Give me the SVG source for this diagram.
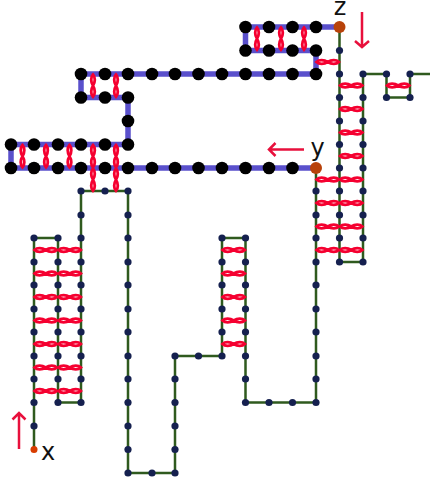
<svg xmlns="http://www.w3.org/2000/svg" xmlns:xlink="http://www.w3.org/1999/xlink" width="430" height="482" viewBox="0 0 430 482">
<style>
.b{fill:none;stroke:#5a50cc;stroke-width:5.500}
.g{fill:none;stroke:#2f5a1e;stroke-width:2.500}
.t{fill:none;stroke:#f50030;stroke-width:2.800}
.a{fill:none;stroke:#e8103c;stroke-width:2.500}
.k{fill:#000}
.n{fill:#15204f}
.o{fill:#b8420a}
text{font-family:"DejaVu Sans",sans-serif;font-size:24px;fill:#111}
</style>
<defs>
<path id="h" class="t" d="M0.500 0C3 -2.400 8 -2.400 11.700 0C15.400 2.400 20.400 2.400 22.900 0C20.400 -2.400 15.400 -2.400 11.700 0C8 2.400 3 2.400 0.500 0Z"/>
<path id="v" class="t" d="M0 0.500C-2.400 3 -2.400 8 0 11.700C2.400 15.400 2.400 20.400 0 22.900C-2.400 20.400 -2.400 15.400 0 11.700C2.400 8 2.400 3 0 0.500Z"/>
<circle id="kn" class="k" r="6.300"/>
<circle id="nn" class="n" r="3.600"/>
</defs>
<g id="connectors">
<path class="b" d="M339.500 27H245.500V50.500H316V74H81V97.500H128V144.500H11V168H316"/>
<path class="g" d="M34 449.500V238H58V402.500H81V191H128V473H175V356H222V238H245.500V402.500H316V168"/>
<path class="g" d="M339.500 27V262H363V74H386.500V97.500H410V74H430"/>
</g>
<g id="twists">
<use xlink:href="#v" x="257" y="27"/><use xlink:href="#v" x="281" y="27"/><use xlink:href="#v" x="304" y="27"/>
<use xlink:href="#v" x="93" y="74"/><use xlink:href="#v" x="116" y="74"/>
<use xlink:href="#v" x="22.500" y="144.500"/><use xlink:href="#v" x="46" y="144.500"/><use xlink:href="#v" x="69.500" y="144.500"/><use xlink:href="#v" x="93" y="144.500"/><use xlink:href="#v" x="116" y="144.500"/>
<use xlink:href="#v" x="93" y="168"/><use xlink:href="#v" x="116" y="168"/>
<use xlink:href="#h" x="316" y="62"/>
<use xlink:href="#h" x="339.500" y="85.500"/><use xlink:href="#h" x="339.500" y="109"/><use xlink:href="#h" x="339.500" y="132.500"/><use xlink:href="#h" x="339.500" y="156"/>
<use xlink:href="#h" x="386.500" y="85.500"/>
<use xlink:href="#h" x="316" y="179.500"/><use xlink:href="#h" x="339.500" y="179.500"/>
<use xlink:href="#h" x="316" y="203"/><use xlink:href="#h" x="339.500" y="203"/>
<use xlink:href="#h" x="316" y="226.500"/><use xlink:href="#h" x="339.500" y="226.500"/>
<use xlink:href="#h" x="316" y="250"/><use xlink:href="#h" x="339.500" y="250"/>
<use xlink:href="#h" x="222" y="250"/><use xlink:href="#h" x="222" y="273.500"/><use xlink:href="#h" x="222" y="297"/><use xlink:href="#h" x="222" y="320.500"/><use xlink:href="#h" x="222" y="344"/>
<use xlink:href="#h" x="34" y="250"/><use xlink:href="#h" x="58" y="250"/>
<use xlink:href="#h" x="34" y="273.500"/><use xlink:href="#h" x="58" y="273.500"/>
<use xlink:href="#h" x="34" y="297"/><use xlink:href="#h" x="58" y="297"/>
<use xlink:href="#h" x="34" y="320.500"/><use xlink:href="#h" x="58" y="320.500"/>
<use xlink:href="#h" x="34" y="344"/><use xlink:href="#h" x="58" y="344"/>
<use xlink:href="#h" x="34" y="367.500"/><use xlink:href="#h" x="58" y="367.500"/>
<use xlink:href="#h" x="34" y="391"/><use xlink:href="#h" x="58" y="391"/>
</g>
<g id="black-nodes">
<use xlink:href="#kn" x="245.500" y="27"/><use xlink:href="#kn" x="269" y="27"/><use xlink:href="#kn" x="292.500" y="27"/><use xlink:href="#kn" x="316" y="27"/>
<use xlink:href="#kn" x="245.500" y="50.500"/><use xlink:href="#kn" x="269" y="50.500"/><use xlink:href="#kn" x="292.500" y="50.500"/><use xlink:href="#kn" x="316" y="50.500"/>
<use xlink:href="#kn" x="81" y="74"/><use xlink:href="#kn" x="105" y="74"/><use xlink:href="#kn" x="128" y="74"/><use xlink:href="#kn" x="152" y="74"/><use xlink:href="#kn" x="175" y="74"/><use xlink:href="#kn" x="198.500" y="74"/><use xlink:href="#kn" x="222" y="74"/><use xlink:href="#kn" x="245.500" y="74"/><use xlink:href="#kn" x="269" y="74"/><use xlink:href="#kn" x="292.500" y="74"/><use xlink:href="#kn" x="316" y="74"/>
<use xlink:href="#kn" x="81" y="97.500"/><use xlink:href="#kn" x="105" y="97.500"/><use xlink:href="#kn" x="128" y="97.500"/>
<use xlink:href="#kn" x="128" y="121"/>
<use xlink:href="#kn" x="11" y="144.500"/><use xlink:href="#kn" x="34" y="144.500"/><use xlink:href="#kn" x="58" y="144.500"/><use xlink:href="#kn" x="81" y="144.500"/><use xlink:href="#kn" x="105" y="144.500"/><use xlink:href="#kn" x="128" y="144.500"/>
<use xlink:href="#kn" x="11" y="168"/><use xlink:href="#kn" x="34" y="168"/><use xlink:href="#kn" x="58" y="168"/><use xlink:href="#kn" x="81" y="168"/><use xlink:href="#kn" x="105" y="168"/><use xlink:href="#kn" x="128" y="168"/><use xlink:href="#kn" x="152" y="168"/><use xlink:href="#kn" x="175" y="168"/><use xlink:href="#kn" x="198.500" y="168"/><use xlink:href="#kn" x="222" y="168"/><use xlink:href="#kn" x="245.500" y="168"/><use xlink:href="#kn" x="269" y="168"/><use xlink:href="#kn" x="292.500" y="168"/>
</g>
<g id="green-nodes">
<use xlink:href="#nn" x="34" y="238"/><use xlink:href="#nn" x="34" y="262"/><use xlink:href="#nn" x="34" y="285"/><use xlink:href="#nn" x="34" y="309"/><use xlink:href="#nn" x="34" y="332"/><use xlink:href="#nn" x="34" y="356"/><use xlink:href="#nn" x="34" y="379"/><use xlink:href="#nn" x="34" y="402.500"/><use xlink:href="#nn" x="34" y="426"/>
<use xlink:href="#nn" x="58" y="238"/><use xlink:href="#nn" x="58" y="262"/><use xlink:href="#nn" x="58" y="285"/><use xlink:href="#nn" x="58" y="309"/><use xlink:href="#nn" x="58" y="332"/><use xlink:href="#nn" x="58" y="356"/><use xlink:href="#nn" x="58" y="379"/><use xlink:href="#nn" x="58" y="402.500"/>
<use xlink:href="#nn" x="81" y="191"/><use xlink:href="#nn" x="81" y="215"/><use xlink:href="#nn" x="81" y="238"/><use xlink:href="#nn" x="81" y="262"/><use xlink:href="#nn" x="81" y="285"/><use xlink:href="#nn" x="81" y="309"/><use xlink:href="#nn" x="81" y="332"/><use xlink:href="#nn" x="81" y="356"/><use xlink:href="#nn" x="81" y="379"/><use xlink:href="#nn" x="81" y="402.500"/>
<use xlink:href="#nn" x="105" y="191"/>
<use xlink:href="#nn" x="128" y="191"/><use xlink:href="#nn" x="128" y="215"/><use xlink:href="#nn" x="128" y="238"/><use xlink:href="#nn" x="128" y="262"/><use xlink:href="#nn" x="128" y="285"/><use xlink:href="#nn" x="128" y="309"/><use xlink:href="#nn" x="128" y="332"/><use xlink:href="#nn" x="128" y="356"/><use xlink:href="#nn" x="128" y="379"/><use xlink:href="#nn" x="128" y="402.500"/><use xlink:href="#nn" x="128" y="426"/><use xlink:href="#nn" x="128" y="449.500"/><use xlink:href="#nn" x="128" y="473"/>
<use xlink:href="#nn" x="152" y="473"/>
<use xlink:href="#nn" x="175" y="473"/><use xlink:href="#nn" x="175" y="449.500"/><use xlink:href="#nn" x="175" y="426"/><use xlink:href="#nn" x="175" y="402.500"/><use xlink:href="#nn" x="175" y="379"/><use xlink:href="#nn" x="175" y="356"/>
<use xlink:href="#nn" x="198.500" y="356"/>
<use xlink:href="#nn" x="222" y="356"/><use xlink:href="#nn" x="222" y="332"/><use xlink:href="#nn" x="222" y="309"/><use xlink:href="#nn" x="222" y="285"/><use xlink:href="#nn" x="222" y="262"/><use xlink:href="#nn" x="222" y="238"/>
<use xlink:href="#nn" x="245.500" y="238"/><use xlink:href="#nn" x="245.500" y="262"/><use xlink:href="#nn" x="245.500" y="285"/><use xlink:href="#nn" x="245.500" y="309"/><use xlink:href="#nn" x="245.500" y="332"/><use xlink:href="#nn" x="245.500" y="356"/><use xlink:href="#nn" x="245.500" y="379"/><use xlink:href="#nn" x="245.500" y="402.500"/>
<use xlink:href="#nn" x="269" y="402.500"/><use xlink:href="#nn" x="292.500" y="402.500"/>
<use xlink:href="#nn" x="316" y="402.500"/><use xlink:href="#nn" x="316" y="379"/><use xlink:href="#nn" x="316" y="356"/><use xlink:href="#nn" x="316" y="332"/><use xlink:href="#nn" x="316" y="309"/><use xlink:href="#nn" x="316" y="285"/><use xlink:href="#nn" x="316" y="262"/><use xlink:href="#nn" x="316" y="238"/><use xlink:href="#nn" x="316" y="215"/><use xlink:href="#nn" x="316" y="191"/>
<use xlink:href="#nn" x="339.500" y="50.500"/><use xlink:href="#nn" x="339.500" y="74"/><use xlink:href="#nn" x="339.500" y="97.500"/><use xlink:href="#nn" x="339.500" y="121"/><use xlink:href="#nn" x="339.500" y="144.500"/><use xlink:href="#nn" x="339.500" y="168"/><use xlink:href="#nn" x="339.500" y="191"/><use xlink:href="#nn" x="339.500" y="215"/><use xlink:href="#nn" x="339.500" y="238"/><use xlink:href="#nn" x="339.500" y="262"/>
<use xlink:href="#nn" x="363" y="74"/><use xlink:href="#nn" x="363" y="97.500"/><use xlink:href="#nn" x="363" y="121"/><use xlink:href="#nn" x="363" y="144.500"/><use xlink:href="#nn" x="363" y="168"/><use xlink:href="#nn" x="363" y="191"/><use xlink:href="#nn" x="363" y="215"/><use xlink:href="#nn" x="363" y="238"/><use xlink:href="#nn" x="363" y="262"/>
<use xlink:href="#nn" x="386.500" y="74"/><use xlink:href="#nn" x="386.500" y="97.500"/><use xlink:href="#nn" x="410" y="74"/><use xlink:href="#nn" x="410" y="97.500"/>
</g>
<g id="node-z"><circle class="o" cx="339.500" cy="27" r="6"/><text x="340" y="15" text-anchor="middle">z</text></g>
<g id="node-y"><circle class="o" cx="316" cy="168" r="6"/><text x="317.500" y="156" text-anchor="middle">y</text></g>
<g id="node-x"><circle fill="#d83c00" cx="34" cy="449.500" r="3.500"/><text x="48" y="460" text-anchor="middle">x</text></g>
<g id="arrows">
<path class="a" d="M362 12V46M355 41L362 47L369 41"/>
<path class="a" d="M304 149.500H269M275.500 143L269 149.500L275.500 156"/>
<path class="a" d="M19 449V414M12.500 419.500L19 413L25.500 419.500"/>
</g>
</svg>
